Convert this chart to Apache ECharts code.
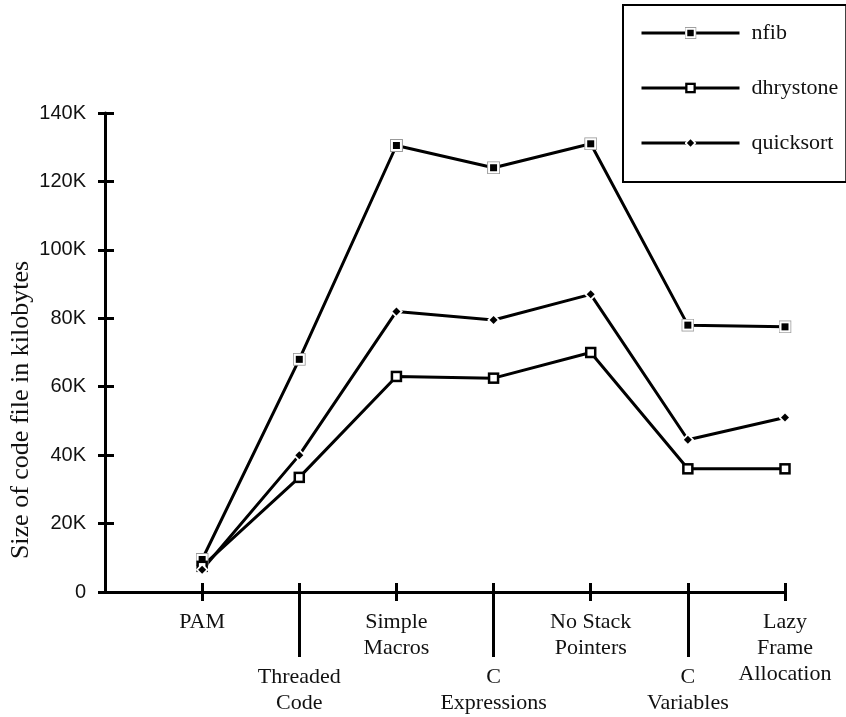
<!DOCTYPE html>
<html>
<head>
<meta charset="utf-8">
<script src="https://cdn.jsdelivr.net/npm/echarts@6/dist/echarts.min.js"></script>
<style>
  html, body { margin: 0; padding: 0; background: #fff; }
  #chart { width: 846px; height: 717px; }
</style>
</head>
<body>
<div id="chart"></div>
<script>
// x positions 1..7 on the axis, values in K (kilobytes)
const categories = [
  "PAM",
  "Threaded\nCode",
  "Simple\nMacros",
  "C\nExpressions",
  "No Stack\nPointers",
  "C\nVariables",
  "Lazy\nFrame\nAllocation",
];
const nfib = [9.5, 68, 130.5, 124, 131, 78, 77.5];
const dhrystone = [7.5, 33.5, 63, 62.5, 70, 36, 36];
const quicksort = [6.5, 40, 82, 79.5, 87, 44.5, 51];
const yTicks = [0, 20, 40, 60, 80, 100, 120, 140];

const serif = "'Liberation Serif', 'Times New Roman', serif";
const sans = "'Liberation Sans', Arial, sans-serif";

function svgSymbol(svg) {
  return "image://data:image/svg+xml;charset=utf-8," + encodeURIComponent(svg);
}

const nfibSym = svgSymbol(
  "<svg xmlns='http://www.w3.org/2000/svg' width='13' height='13'>" +
    "<rect x='0.5' y='0.5' width='12' height='12' fill='#fff' stroke='#999'/>" +
    "<rect x='3' y='3' width='7' height='7' fill='#000'/></svg>"
);
const dhrySym = svgSymbol(
  "<svg xmlns='http://www.w3.org/2000/svg' width='13' height='13'>" +
    "<rect x='2' y='2' width='9' height='9' fill='#fff' stroke='#000' stroke-width='2.5'/></svg>"
);
const quickSym = svgSymbol(
  "<svg xmlns='http://www.w3.org/2000/svg' width='13' height='13'>" +
    "<path d='M6.5 0L13 6.5L6.5 13L0 6.5Z' fill='#fff'/>" +
    "<path d='M6.5 2.5L10.5 6.5L6.5 10.5L2.5 6.5Z' fill='#000'/></svg>"
);

const toPoints = (vals) => vals.map((v, i) => [i + 1, v]);
const catLabel = (v) => categories[v - 1] || "";

const labelStyle = {
  fontFamily: serif,
  fontSize: 22,
  lineHeight: 26,
  color: "#111",
};

function xAxisBase(extra) {
  return Object.assign(
    {
      type: "value",
      position: "bottom",
      min: 0,
      max: 7,
      interval: 1,
      splitLine: { show: false },
      axisLine: { show: false, onZero: false },
      axisTick: { show: false },
      axisLabel: { show: false },
    },
    extra
  );
}

function lineSeries(name, vals, sym) {
  return {
    name: name,
    type: "line",
    data: toPoints(vals),
    symbol: sym,
    symbolSize: 13,
    showAllSymbol: true,
    lineStyle: { color: "#000", width: 3 },
    itemStyle: { color: "#000" },
    z: 3,
  };
}

let option = {
  animation: false,
  backgroundColor: "#fff",
  grid: {
    left: 105,
    right: 61,
    top: 113,
    bottom: 125,
    outerBoundsMode: "none",
  },
  legend: {
    orient: "vertical",
    left: 623,
    top: 5,
    padding: [15, 8, 26, 17],
    itemWidth: 98,
    itemHeight: 15,
    itemGap: 29,
    borderColor: "#000",
    borderWidth: 2,
    lineStyle: { width: 3 },
    textStyle: {
      fontFamily: serif,
      fontSize: 22,
      lineHeight: 26,
      color: "#111",
      padding: [0, 0, 0, 7],
    },
    data: ["nfib", "dhrystone", "quicksort"],
  },
  graphic: [
    {
      type: "text",
      x: 21,
      y: 410,
      rotation: Math.PI / 2,
      style: {
        text: "Size of code file in kilobytes",
        font: "26px " + serif,
        fill: "#111",
        textAlign: "center",
        textVerticalAlign: "middle",
      },
    },
  ],
  xAxis: [
    xAxisBase({
      axisLine: { show: true, onZero: false, lineStyle: { color: "#000", width: 3 } },
      axisLabel: Object.assign({ customValues: [1, 3, 5, 7], margin: 17, formatter: catLabel }, labelStyle),
    }),
    xAxisBase({
      axisLabel: Object.assign({ customValues: [2, 4, 6], margin: 72, formatter: catLabel }, labelStyle),
    }),
    xAxisBase({
      offset: -9,
      axisTick: { show: true, customValues: [1, 3, 5, 7], length: 18, lineStyle: { color: "#000", width: 3 } },
    }),
    xAxisBase({
      offset: -9,
      axisTick: { show: true, customValues: [2, 4, 6], length: 74, lineStyle: { color: "#000", width: 3 } },
    }),
  ],
  yAxis: [
    {
      type: "value",
      position: "left",
      min: 0,
      max: 140,
      interval: 20,
      splitLine: { show: false },
      axisLine: { show: true, onZero: false, lineStyle: { color: "#000", width: 3 } },
      axisTick: { show: false },
      axisLabel: {
        customValues: yTicks,
        margin: 19,
        fontFamily: sans,
        fontSize: 20,
        color: "#111",
        formatter: (v) => (v === 0 ? "0" : v + "K"),
      },
    },
    {
      type: "value",
      position: "left",
      min: 0,
      max: 140,
      interval: 20,
      offset: -9,
      splitLine: { show: false },
      axisLine: { show: false, onZero: false },
      axisLabel: { show: false },
      axisTick: { show: true, length: 16, lineStyle: { color: "#000", width: 3 } },
    },
  ],
  series: [
    lineSeries("nfib", nfib, nfibSym),
    lineSeries("dhrystone", dhrystone, dhrySym),
    lineSeries("quicksort", quicksort, quickSym),
  ],
};

const chart = echarts.init(document.getElementById("chart"), null, { renderer: "canvas" });
chart.setOption(option);
</script>
</body>
</html>
